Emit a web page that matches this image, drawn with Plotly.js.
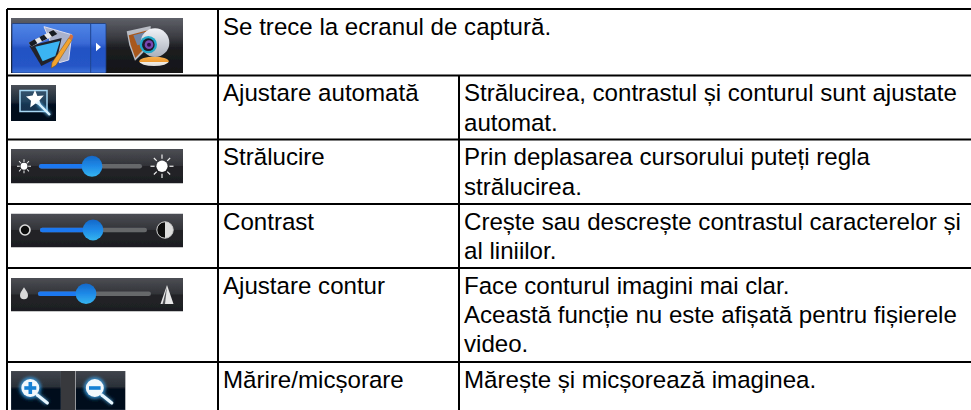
<!DOCTYPE html>
<html><head><meta charset="utf-8">
<script src="https://cdn.plot.ly/plotly-3.0.1.min.js"></script>
<style>html,body{margin:0;padding:0;background:#fff}#c{width:971px;height:410px}</style>
</head><body><div id="c"></div>
<script>
// Table content
const functionNames = ["", "Ajustare automată", "Strălucire", "Contrast", "Ajustare contur", "Mărire/micșorare"];
const descriptionLines = [
  ["Se trece la ecranul de captură."],
  ["Strălucirea, contrastul și conturul sunt ajustate", "automat."],
  ["Prin deplasarea cursorului puteți regla", "strălucirea."],
  ["Crește sau descrește contrastul caracterelor și", "al liniilor."],
  ["Face conturul imagini mai clar.", "Această funcție nu este afișată pentru fișierele", "video."],
  ["Mărește și micșorează imaginea."]
];
// Grid geometry
const W = 971, H = 410;
const rowEdges = [9, 75.5, 139.5, 204, 268, 362];
const colEdges = [7, 218, 459];
const FONT = 'Liberation Sans, Arial, sans-serif', FS = 24.1, LH = 29.3;
const textPad = 5.2, firstBase = 25;

const defs = (id, stops) => `<linearGradient id="${id}" x1="0" y1="0" x2="0" y2="1">` +
  stops.map(s => `<stop offset="${s[0]}" stop-color="${s[1]}"/>`).join('') + `</linearGradient>`;
const blur = '<filter id="b" x="-10%" y="-10%" width="120%" height="120%"><feGaussianBlur stdDeviation="0.5"/></filter><filter id="g" x="-50%" y="-50%" width="200%" height="200%"><feGaussianBlur stdDeviation="1.6"/></filter>';
const wrap = (w, h, d, body) => 'data:image/svg+xml;utf8,' + encodeURIComponent(
  `<svg xmlns="http://www.w3.org/2000/svg" width="${w}" height="${h}" viewBox="0 0 ${w} ${h}"><defs>${blur}${d}</defs><g filter="url(#b)">${body}</g></svg>`);

function sliderSvg(cy, t0, t1, kx, leftIcon, rightIcon) {
  const d = defs('bg', [[0,'#4c4e54'],[0.48,'#323338'],[0.5,'#232428'],[1,'#1d1e22']]) +
    defs('k', [[0,'#1468c8'],[0.5,'#1f8ae8'],[1,'#35b5ef']]);
  return wrap(172, 34, d, `<rect width="172" height="34" fill="url(#bg)"/>
   <rect x="${t0}" y="${cy-2.3}" width="${t1-t0}" height="4.6" rx="2.3" fill="#66676b"/>
   <rect x="${t0}" y="${cy-2.3}" width="${kx-t0}" height="4.6" rx="2.3" fill="#1f78f0"/>
   <circle cx="${kx}" cy="${cy}" r="10.4" fill="url(#k)"/>${leftIcon}${rightIcon}`);
}
const rays = (cx, cy, r0, r1, sw) => [0,45,90,135,180,225,270,315].map(a => {
  const c = Math.cos(a*Math.PI/180), s = Math.sin(a*Math.PI/180);
  return `<line x1="${cx+c*r0}" y1="${cy+s*r0}" x2="${cx+c*r1}" y2="${cy+s*r1}" stroke="#eee" stroke-width="${sw}"/>`;
}).join('');
const sliderA = sliderSvg(17, 28, 131, 81,
  `<circle cx="13" cy="17" r="3.4" fill="#fff"/>` + rays(13,17,4.2,7,1),
  `<circle cx="151" cy="17" r="5.6" fill="#fff"/>` + rays(151,17,7.4,11.5,1.2));
const sliderB = sliderSvg(16.5, 29, 136, 82,
  `<circle cx="14" cy="16.5" r="5" fill="#111" stroke="#ddd" stroke-width="1.6"/>`,
  `<circle cx="154" cy="16.5" r="8.2" fill="#ddd"/><path d="M154 8.3a8.2 8.2 0 0 0 0 16.4z" fill="#111"/><circle cx="154" cy="16.5" r="8.2" fill="none" stroke="#ccc" stroke-width="1"/>`);
const sliderC = sliderSvg(16, 27, 140, 75,
  `<path d="M13 9.5c-2 3.4-4 5.6-4 8a4 4 0 0 0 8 0c0-2.4-2-4.6-4-8z" fill="#d8d8d8"/>`,
  `<path d="M156 7L149.5 26.5H162.5Z" fill="#e8e8e8"/><path d="M156 9L154 26.5H151.5Z" fill="#55565a"/>`);

function captureSvg() {
  const d = defs('bg', [[0,'#5e6068'],[0.33,'#3d3e44'],[0.55,'#1c1d20'],[1,'#141518']]) +
    defs('btn', [[0,'#4f86e6'],[0.4,'#3a6ad6'],[0.5,'#2352c4'],[0.85,'#2555c6'],[1,'#3e72d8']]) +
    defs('cam', [[0,'#f0f2f6'],[1,'#aab0bc']]) + defs('base', [[0,'#f6b050'],[0.55,'#ef9a30'],[0.6,'#f0ece4'],[1,'#dcdcdc']]);
  return wrap(172, 55, d, `<rect width="172" height="55" fill="url(#bg)"/>
  <rect x="1" y="5.5" width="94" height="49.5" rx="1" fill="url(#btn)" stroke="#1c3a78" stroke-width="0.8"/>
  <line x1="79.7" y1="6" x2="79.7" y2="55" stroke="#1f448e" stroke-width="1"/>
  <g transform="translate(9,4) scale(0.33333)">
    <path d="M228 62L243 75L228 88Z" fill="#fff"/>
    <path d="M72 14L155 38L146 114L118 122Z" fill="#aab2cc" stroke="#dde" stroke-width="3"/>
    <path d="M28 72L125 48L112 108L64 132Z" fill="#20242c"/>
    <path d="M46 74L120 57L106 102L68 118Z" fill="#3ab4f2"/>
    <path d="M26 62L100 24L112 36L34 74Z" fill="#e8e8e8"/>
    <path d="M26 62L44 52L52 64L34 74ZM58 45L72 38L82 50L66 58ZM86 31L100 24L112 36L96 44Z" fill="#181a20"/>
    <path d="M146 48L156 54L108 130L94 138L96 122Z" fill="#f2a32e" stroke="#7a4f10" stroke-width="1.5"/>
    <path d="M146 48L152 36L160 42L156 54Z" fill="#d8703a"/>
    <path d="M320 28L392 12L392 70L345 116L328 70Z" fill="#b8bcc4"/>
    <path d="M326 40L386 24L386 66L346 108L332 68Z" fill="#a8581e"/>
    <path d="M340 40L386 28L386 60L352 70Z" fill="#6f86a8"/>
    <ellipse cx="402" cy="118" rx="44" ry="14" fill="url(#base)"/>
    <circle cx="405" cy="62" r="43" fill="url(#cam)"/>
    <circle cx="385" cy="68" r="26" fill="#20a8c8"/><circle cx="385" cy="68" r="19" fill="#1a1c2c"/>
    <circle cx="387" cy="68" r="13" fill="#7a46b0"/><circle cx="387" cy="68" r="6" fill="#2c1046"/>
  </g>`);
}
function autoSvg() {
  const d = defs('bg', [[0,'#495058'],[0.45,'#1d2a38'],[0.55,'#000f20'],[1,'#000c1a']]);
  return wrap(45, 36, d, `<rect width="45" height="36" fill="url(#bg)"/>
  <rect x="9" y="5.5" width="27" height="21" fill="#2c6c9c" fill-opacity="0.4" stroke="#a8d8f4" stroke-width="1.5"/>
  <path d="M24 5l2.4 6 6.4-.6-4.4 5 2.4 6-6.2-2.8-5.4 3.8 .8-6.6-5-4.2 6.6-1.2z" fill="#fff"/>
  <line x1="27" y1="18" x2="39" y2="30" stroke="#6cc4f8" stroke-width="4.5" stroke-opacity=".7" filter="url(#g)"/>
  <line x1="27" y1="18" x2="39" y2="30" stroke="#d8f2ff" stroke-width="2.4"/>`);
}
function zoomSvg(plus) {
  const d = defs('bg', [[0,'#40444c'],[0.40,'#2a3038'],[0.46,'#00101f'],[1,'#000e1e']]);
  const cx = 19.3, cy = 17;
  const sign = plus
    ? `<rect x="${cx-6}" y="${cy-1.8}" width="12" height="3.6" fill="#1480d4"/><rect x="${cx-1.8}" y="${cy-6}" width="3.6" height="12" fill="#1480d4"/>`
    : `<rect x="${cx-5.8}" y="${cy-1.8}" width="11.6" height="3.6" fill="#1480d4"/>`;
  return wrap(50, 39, d, `<rect width="50" height="39" fill="url(#bg)"/><rect x="0" y="0" width="50" height="39" fill="none" stroke="#55585e" stroke-width=".6"/>
  <circle cx="${cx}" cy="${cy}" r="11" fill="#3aa8f4" fill-opacity=".7" filter="url(#g)"/>
  <line x1="${cx+7}" y1="${cy+7}" x2="${cx+17}" y2="${cy+15}" stroke="#5cbcf8" stroke-width="5" stroke-opacity=".6" filter="url(#g)"/>
  <circle cx="${cx}" cy="${cy}" r="9" fill="#f2f8fc"/>
  <line x1="${cx+7}" y1="${cy+7}" x2="${cx+17}" y2="${cy+15}" stroke="#e6f6ff" stroke-width="3.2" stroke-linecap="round"/>${sign}`);
}
const pic = (src, x, y, w, h) => ({source: src, xref:'paper', yref:'paper', x: x/W, y: 1-y/H,
  sizex: w/W, sizey: h/H, xanchor:'left', yanchor:'top', sizing:'stretch', layer:'above'});
const images = [
  pic(captureSvg(), 11, 18, 172, 55),
  pic(autoSvg(), 11, 85, 45, 36),
  pic(sliderA, 11, 149, 172, 34.5),
  pic(sliderB, 11, 213.5, 172, 34),
  pic(sliderC, 11, 278, 172, 33.5),
  pic('data:image/svg+xml;utf8,' + encodeURIComponent('<svg xmlns="http://www.w3.org/2000/svg" width="15" height="39"><rect width="15" height="39" fill="#38393d"/></svg>'), 60.5, 371, 15, 39),
  pic(zoomSvg(true), 11, 371, 50, 39),
  pic(zoomSvg(false), 75.5, 371, 50, 39)
];

// Grid lines through the axes
const gridX = [], gridY = [];
rowEdges.forEach(y => { gridX.push(colEdges[0], W, null); gridY.push(y, y, null); });
gridX.push(colEdges[0], colEdges[0], null, colEdges[1], colEdges[1], null);
gridY.push(rowEdges[0], H, null, rowEdges[0], H, null);
gridX.push(colEdges[2], colEdges[2]); gridY.push(rowEdges[1], H);
const traces = [{x: gridX, y: gridY, mode:'lines', line:{color:'#000', width:2}, hoverinfo:'skip', showlegend:false, connectgaps:false}];

const ann = [];
const put = (t, x, y) => ann.push({text:t, x, y, xref:'x', yref:'y', showarrow:false, xanchor:'left', yanchor:'bottom', yshift:-5.8,
  font:{family:FONT, size:FS, color:'#000'}, align:'left', borderpad:0, borderwidth:0});
functionNames.forEach((name, i) => { if (name) put(name, colEdges[1] + textPad, rowEdges[i] + firstBase); });
descriptionLines.forEach((lines, i) => lines.forEach((t, j) => {
  const x = (i === 0 ? colEdges[1] : colEdges[2]) + textPad;
  put(t, x, rowEdges[i] + firstBase + j * LH);
}));

Plotly.newPlot('c', traces, {
  width: W, height: H, margin:{l:0,r:0,t:0,b:0}, paper_bgcolor:'#fff', plot_bgcolor:'#fff', showlegend:false,
  xaxis:{range:[0,W], visible:false, fixedrange:true}, yaxis:{range:[H,0], visible:false, fixedrange:true},
  images, annotations: ann
}, {displayModeBar:false, staticPlot:true});
</script></body></html>
